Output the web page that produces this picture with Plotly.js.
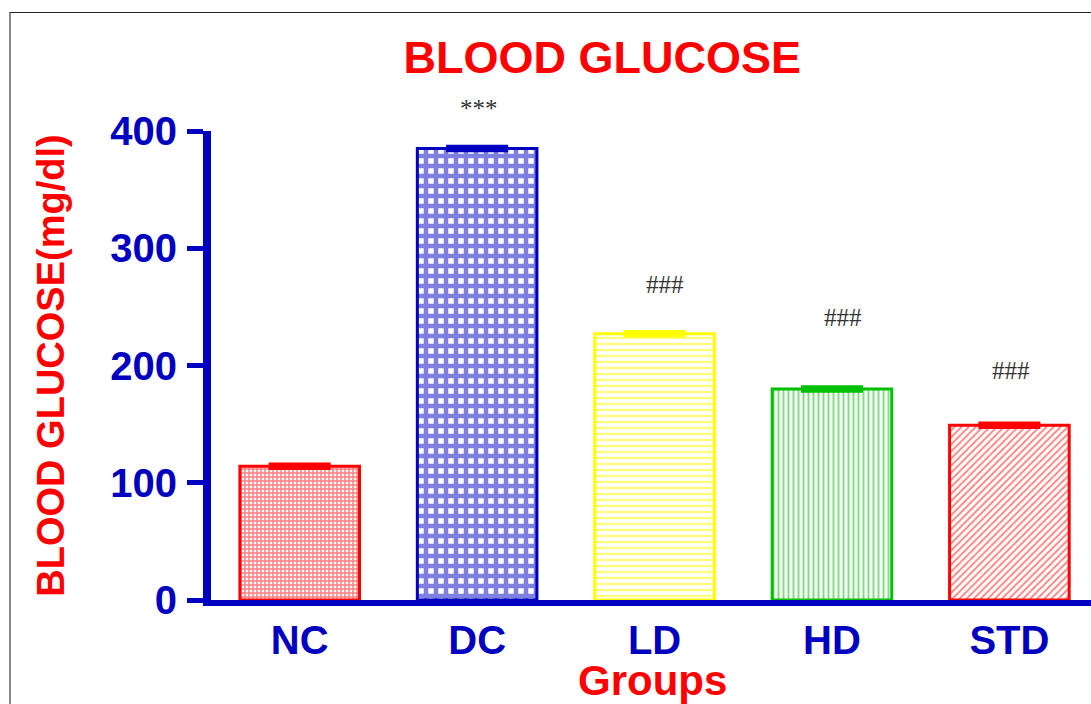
<!DOCTYPE html>
<html>
<head>
<meta charset="utf-8">
<script src="https://cdn.plot.ly/plotly-3.0.1.min.js"></script>
<style>
  html, body { margin: 0; padding: 0; background: #fff; overflow: hidden; }
  #wrap { position: relative; width: 1091px; height: 704px; }
  #chart { width: 1091px; height: 704px; }
  #frame { position: absolute; left: 9px; top: 12px; width: 1100px; height: 700px;
           border-top: 1px solid #222; border-left: 2px solid #888; pointer-events: none; }
</style>
</head>
<body>
<div id="wrap">
  <div id="chart"></div>
  <div id="frame"></div>
</div>
<script>
// ---- data ----
const groups = ["NC", "DC", "LD", "HD", "STD"];
const glucose = [114, 385, 227, 180, 149];      // mg/dl, mean
const sem = [1.5, 1.5, 1.5, 1.5, 1.5];           // error (SEM)
const signif = ["", "***", "###", "###", "###"]; // significance labels
const signifY = [0, 419, 269, 241, 196];         // label height (mg/dl)
const yMax = 400;
const xTitle = "Groups";
const yTitle = "BLOOD GLUCOSE(mg/dl)";
const chartTitle = "BLOOD GLUCOSE";

// ---- styles ----
const BLUE = "#0000C0";
const RED = "#FF0000";
const lineColors = [RED, BLUE, "#FFFF00", "#00C000", RED];
const patShapes = ["+", "+", "-", "|", "/"];
const patSizes = [4, 10, 6, 5, 5];
const patSolid = [0.6, 0.7, 0.4, 0.4, 0.35];

const traces = groups.map((g, i) => ({
  type: "bar",
  x: [g],
  y: [glucose[i]],
  width: 0.674,
  marker: {
    color: "#FFFFFF",
    line: { color: lineColors[i], width: 3 },
    pattern: { shape: patShapes[i], fgcolor: lineColors[i], bgcolor: "#FFFFFF",
               size: patSizes[i], solidity: patSolid[i], fillmode: "overlay" }
  },
  error_y: { type: "data", array: [sem[i]], visible: true, color: lineColors[i],
             thickness: 4, width: 31 },
  showlegend: false,
  hoverinfo: "x+y"
}));

const boldFont = "Liberation Sans, Arial, Helvetica, sans-serif";

const annotations = groups.map((g, i) => ({
  x: g, y: signifY[i] / yMax, xref: "x", yref: "paper", yanchor: "middle",
  text: signif[i], showarrow: false,
  font: { family: "Liberation Serif, Times New Roman, serif", size: 25, color: "#333333" },
  xshift: [0, 2, 10, 11, 2][i]
})).filter(a => a.text !== "");

// x-axis title (drawn as annotation so it can sit low in the margin)
annotations.push({
  x: 0.502, y: -0.117, xref: "paper", yref: "paper", xanchor: "center", yanchor: "top",
  text: xTitle, showarrow: false,
  font: { family: boldFont, size: 42, color: RED, weight: 700 }
});

const layout = {
  width: 1091, height: 704,
  margin: { l: 211, r: 0, t: 131, b: 104, pad: 0 },
  paper_bgcolor: "#FFFFFF", plot_bgcolor: "#FFFFFF",
  barmode: "overlay",
  title: {
    text: chartTitle,
    font: { family: boldFont, size: 45, color: RED, weight: 700 },
    xref: "container", yref: "container", x: 0.552, xanchor: "center",
    y: 0.919, yanchor: "middle"
  },
  xaxis: {
    type: "category",
    categoryorder: "array", categoryarray: groups,
    range: [-0.5, 4.46],
    showline: true, linewidth: 6, linecolor: BLUE,
    ticks: "", showgrid: false, zeroline: false,
    tickfont: { family: boldFont, size: 40, color: BLUE, weight: 700 },
    ticklabelstandoff: 0,
    automargin: false, fixedrange: true
  },
  yaxis: {
    range: [0, yMax],
    tickvals: [0, 100, 200, 300, 400],
    showline: true, linewidth: 8, linecolor: BLUE,
    ticks: "outside", ticklen: 16, tickwidth: 5, tickcolor: BLUE,
    showgrid: false, zeroline: false,
    tickfont: { family: boldFont, size: 40, color: BLUE, weight: 700 },
    ticklabelstandoff: 2,
    title: { text: yTitle, font: { family: boldFont, size: 38, color: RED, weight: 700 }, standoff: 37 },
    automargin: false, fixedrange: true
  },
  annotations: annotations,
  font: { family: boldFont }
};

Plotly.newPlot("chart", traces, layout, { displayModeBar: false, staticPlot: true });
</script>
</body>
</html>
